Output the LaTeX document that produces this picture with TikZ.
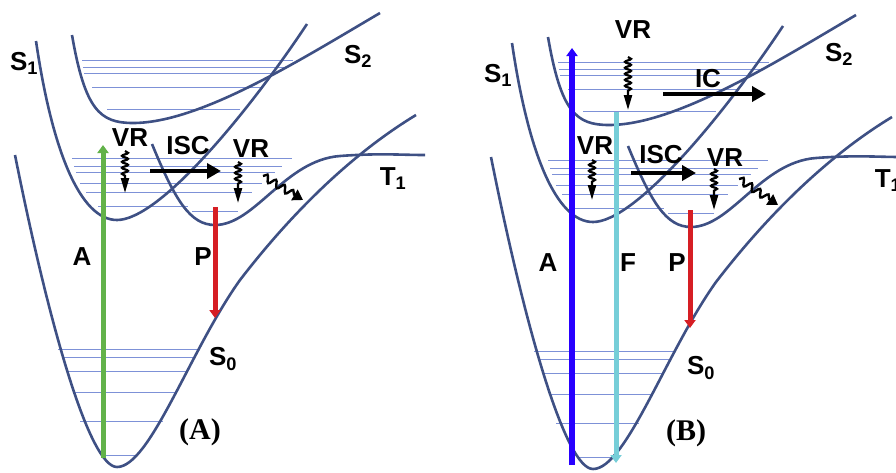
\documentclass[tikz,border=0pt]{standalone}
\usepackage{fontspec}
\setmainfont{Liberation Sans}
\newfontfamily\panelfont{Liberation Serif}
\usetikzlibrary{arrows.meta,decorations.pathmorphing}

\definecolor{pescol}{RGB}{62,80,132}
\definecolor{levcol}{RGB}{125,145,215}
\definecolor{absgreen}{RGB}{98,178,74}
\definecolor{absblue}{RGB}{40,0,255}
\definecolor{fluocyan}{RGB}{118,206,216}
\definecolor{phosred}{RGB}{214,30,36}

\tikzset{
  pes/.style={draw=pescol, line width=2.6pt},
  level/.style={draw=levcol, line width=1pt},
  lbl/.style={font=\fontsize{26}{28}\selectfont\bfseries, inner sep=0pt},
  panel/.style={font=\panelfont\fontsize{30}{32}\selectfont\bfseries, inner sep=0pt},
  radiative/.style={line width=5pt, -{Triangle[width=11pt,length=8pt]}},
  transfer/.style={line width=4.5pt, -{Triangle[width=15pt,length=14pt]}},
  relax/.style={line width=2.2pt, decorate,
    decoration={snake, amplitude=3pt, segment length=6pt, post length=17pt},
    -{Triangle[width=8pt,length=15pt]}},
  decay/.style={line width=2.4pt, decorate,
    decoration={snake, amplitude=3.5pt, segment length=10pt, post length=9pt},
    -{Triangle[width=12pt,length=10pt]}},
}

% potential energy curves with their vibrational levels
\newcommand{\pescurves}{%
  % levels of S2
  \foreach \y/\xa/\xb in {60/82/293, 67/83/285, 73/84/277, 87/92/262, 109/107/240}
    \draw[level] (\xa,\y) -- (\xb,\y);
  % levels of S1 and T1
  \foreach \y/\xa/\xb in {158/72/292, 166/74/282, 172/76/275, 183/80/262, 192/86/252, 206/98/188, 211/192/238}
    \draw[level] (\xa,\y) -- (\xb,\y);
  % levels of S0
  \foreach \y/\xa/\xb in {349/58/197, 357/62/193, 371/66/187, 392/73/175, 421/80/163, 455/103/135}
    \draw[level] (\xa,\y) -- (\xb,\y);
  % S0
  \draw[pes] (15,155) .. controls (50,330) and (90,467) .. (117,467)
    .. controls (150,467) and (190,350) .. (240,280)
    .. controls (290,215) and (350,155) .. (416,115);
  % S1
  \draw[pes] (36,41) .. controls (52,150) and (80,220) .. (117,220)
    .. controls (160,220) and (250,110) .. (307,24);
  % S2
  \draw[pes] (72,35) .. controls (85,110) and (100,123) .. (133,123)
    .. controls (200,123) and (300,60) .. (380,13);
  % T1
  \draw[pes] (152,144) .. controls (175,200) and (190,225) .. (215,225)
    .. controls (255,225) and (285,160) .. (340,156)
    .. controls (380,153) and (400,155) .. (425,155);
}

\begin{document}
\begin{tikzpicture}[x=1pt, y=-1pt]
  \useasboundingbox (0,0) rectangle (896,472);
  \clip (0,0) rectangle (896,472);

  % ---- panel (A) ----
  \pescurves
  % absorption, phosphorescence
  \draw[radiative, absgreen] (103,458) -- (103,145);
  \draw[radiative, phosred] (215,207) -- (215,318);
  % relaxation
  \draw[relax] (125,151) -- (125,193);
  \draw[relax] (238,162) -- (238,203);
  \draw[decay] (263,176) -- (303,200);
  \draw[transfer] (150,171) -- (221,171);
  % labels
  \node[lbl] (s1a) at (24,63) {S\textsubscript{1}};
  \node[lbl] (s2a) at (358,56) {S\textsubscript{2}};
  \node[lbl] (t1a) at (393,179) {T\textsubscript{1}};
  \node[lbl] (s0a) at (223,359) {S\textsubscript{0}};
  \node[lbl] (vra) at (130,138) {VR};
  \node[lbl] (isca) at (188,146) {ISC};
  \node[lbl] (vrb) at (251,149) {VR};
  \node[lbl] (absa) at (82,257) {A};
  \node[lbl] (phosa) at (203,257) {P};
  \node[panel] (pa) at (200,432) {(A)};

  % ---- panel (B) ----
  \begin{scope}[shift={(476,2)}]
    \pescurves
  \end{scope}
  % absorption, fluorescence, phosphorescence
  \draw[radiative, absblue, line width=6pt] (572,465) -- (572,48);
  \draw[radiative, fluocyan] (616,112) -- (616,463);
  \draw[radiative, phosred] (690,210) -- (690,328);
  % relaxation and conversion
  \draw[relax] (628,57) -- (628,110);
  \draw[relax] (592,160) -- (592,200);
  \draw[relax] (714,169) -- (714,210);
  \draw[decay] (739,179) -- (778,205);
  \draw[transfer] (663,94) -- (766,94);
  \draw[transfer] (631,173) -- (696,173);
  % labels
  \node[lbl] (s1b) at (498,75) {S\textsubscript{1}};
  \node[lbl] (s2b) at (839,54) {S\textsubscript{2}};
  \node[lbl] (t1b) at (888,181) {T\textsubscript{1}};
  \node[lbl] (s0b) at (701,368) {S\textsubscript{0}};
  \node[lbl] (vrc) at (633,30) {VR};
  \node[lbl] (icb) at (708,79) {IC};
  \node[lbl] (vrd) at (595,146) {VR};
  \node[lbl] (iscb) at (661,155) {ISC};
  \node[lbl] (vre) at (725,158) {VR};
  \node[lbl] (absb) at (548,263) {A};
  \node[lbl] (fluob) at (628,263) {F};
  \node[lbl] (phosb) at (677,263) {P};
  \node[panel] (pb) at (686,433) {(B)};
\end{tikzpicture}
\end{document}
